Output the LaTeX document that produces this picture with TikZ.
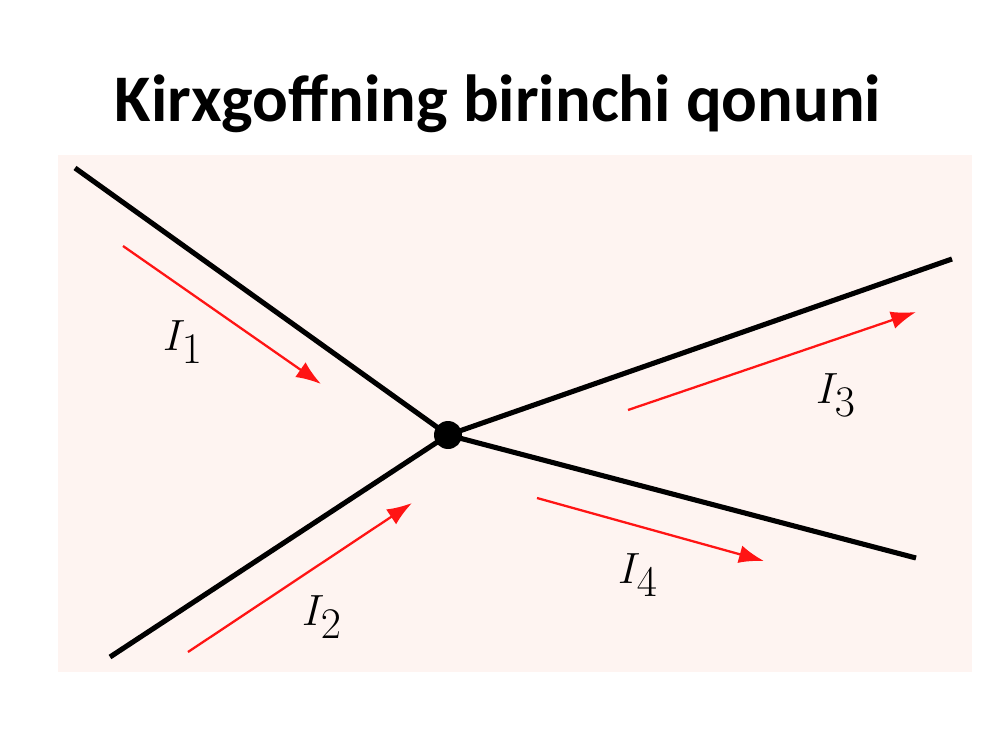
\documentclass[tikz,border=0pt]{standalone}
\usepackage{fontspec}
\setsansfont{Carlito}
\usetikzlibrary{arrows.meta}
\definecolor{panelpink}{RGB}{254,244,241}
\definecolor{currentred}{RGB}{255,20,20}

\begin{document}
\begin{tikzpicture}[x=0.02cm,y=-0.02cm,>={Latex[length=0.5cm,width=0.36cm]},
	wire/.style={draw=black,line width=2.9pt},
	current/.style={draw=currentred,line width=1.3pt,->},
	clabel/.style={font=\fontsize{33}{36}\selectfont}]
		\useasboundingbox (0,0) rectangle (1000,750);
		\fill[white] (0,0) rectangle (1000,750);
		\fill[panelpink] (58,155) rectangle (972,672);

		%Title
		\node at (498,104) (title) [font=\sffamily\bfseries\fontsize{37.9}{44}\selectfont] {Kirxgoffning birinchi qonuni};

		% junction and wire ends
		\node at (448,435) (j) [circle,fill=black,minimum size=0.56cm,inner sep=0pt] {};
		\coordinate (w1) at (75,168);
		\coordinate (w2) at (110,657);
		\coordinate (w3) at (952,259);
		\coordinate (w4) at (916,558);
		\foreach \w in {w1,w2,w3,w4}{
			\draw[wire] (\w) -- (j.center);
		}

		% currents
		\coordinate (a1) at (123,246);  \coordinate (b1) at (321,384);
		\coordinate (a2) at (188,652);  \coordinate (b2) at (412,503);
		\coordinate (a3) at (628,410);  \coordinate (b3) at (916,312);
		\coordinate (a4) at (537,498);  \coordinate (b4) at (764,561);
		\foreach \i in {1,2,3,4}{
			\draw[current] (a\i) -- (b\i);
		}

		% labels
		\node at (183,342) (l1) [clabel] {$I_1$};
		\node at (322,617) (l2) [clabel] {$I_2$};
		\node at (836,395) (l3) [clabel] {$I_3$};
		\node at (638,575) (l4) [clabel] {$I_4$};
	\end{tikzpicture}
\end{document}
